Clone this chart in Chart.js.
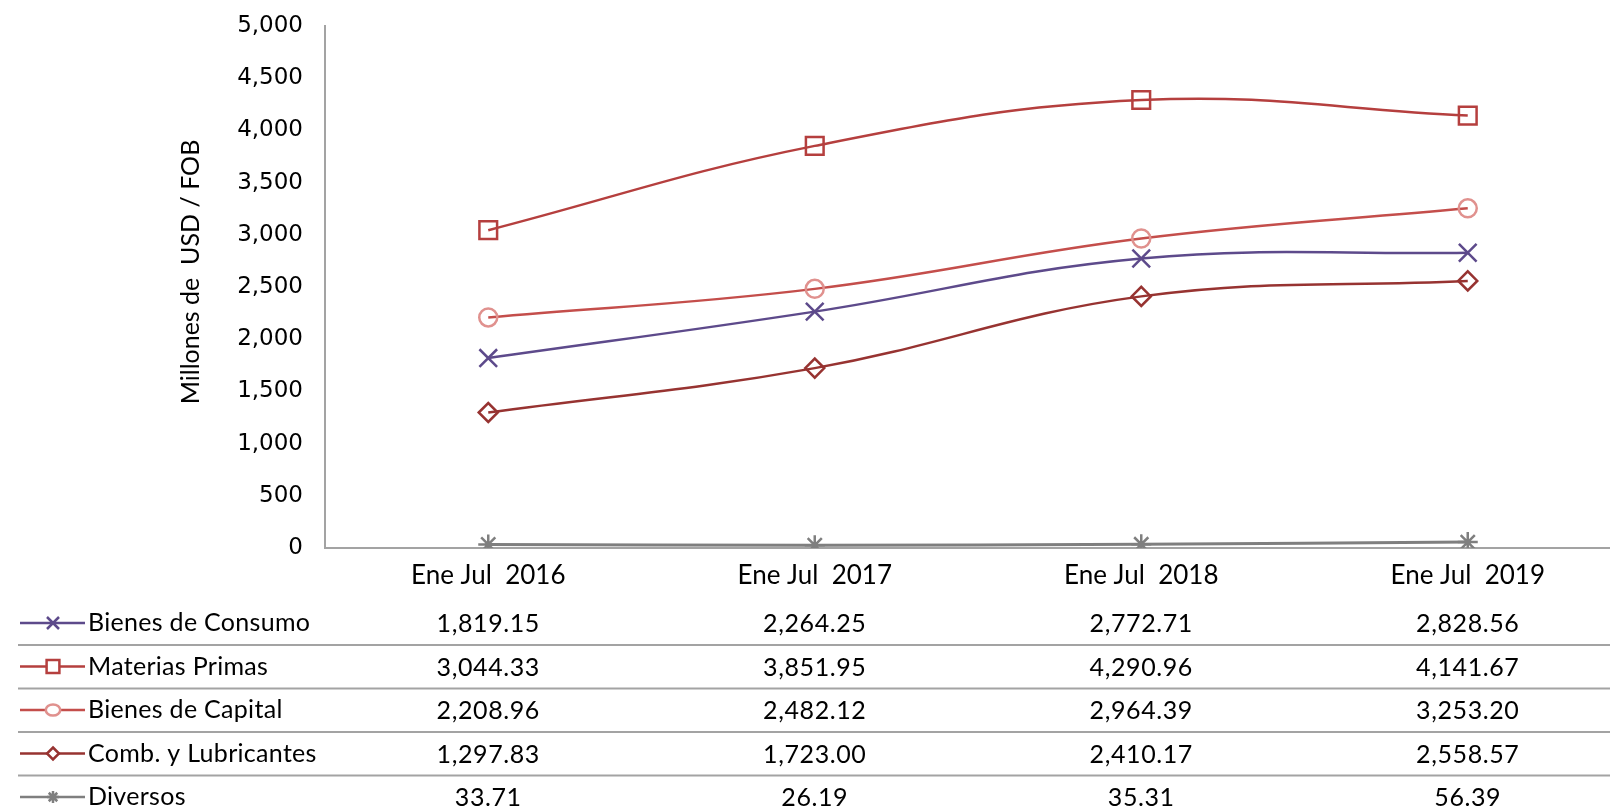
<!DOCTYPE html>
<html>
<head>
<meta charset="utf-8">
<script src="https://cdn.jsdelivr.net/npm/chart.js@4/dist/chart.umd.min.js"></script>
<style>
  html, body { margin: 0; padding: 0; background: #fff; overflow: hidden; }
  #wrap { width: 1640px; height: 807px; }
</style>
</head>
<body>
<div id="wrap"><canvas id="chart" width="1640" height="807"></canvas></div>
<script>
// Importaciones por uso o destino económico, enero-julio de cada año (millones USD FOB)
const categories = ["Ene Jul  2016", "Ene Jul  2017", "Ene Jul  2018", "Ene Jul  2019"]
const seriesNames = ["Bienes de Consumo", "Materias Primas", "Bienes de Capital", "Comb. y Lubricantes", "Diversos"]

const bienesConsumo   = [1819.15, 2264.25, 2772.71, 2828.56]
const materiasPrimas  = [3044.33, 3851.95, 4290.96, 4141.67]
const bienesCapital   = [2208.96, 2482.12, 2964.39, 3253.20]
const combLubricantes = [1297.83, 1723.00, 2410.17, 2558.57]
const diversos        = [33.71, 26.19, 35.31, 56.39]

const yTicks = [0, 500, 1000, 1500, 2000, 2500, 3000, 3500, 4000, 4500, 5000]
const yTitle = "Millones de  USD / FOB"

const CALIBRI = "Lato, 'Open Sans', sans-serif"
const GRID_GRAY = "#a3a3a3"

const fmt = (v) => v.toLocaleString("en-US", { minimumFractionDigits: 2, maximumFractionDigits: 2 })

function series(label, data, color, pointColor, style, radius, width) {
  return {
    label,
    data,
    borderColor: color,
    borderWidth: width || 2.5,
    pointStyle: style,
    pointRadius: radius,
    pointBorderWidth: 2.5,
    pointBorderColor: pointColor,
    pointBackgroundColor: "rgba(255,255,255,0)",
    tension: 0.4,
    fill: false,
  }
}

const datasets = [
  series(seriesNames[0], bienesConsumo,   "#5d4a8b", "#5d4a8b", "crossRot", 12.5),
  series(seriesNames[1], materiasPrimas,  "#b53f3e", "#b53f3e", "rect", 12.5),
  series(seriesNames[2], bienesCapital,   "#c44e4b", "#e0918e", "circle", 9),
  series(seriesNames[3], combLubricantes, "#973331", "#973331", "rectRot", 9.5),
  series(seriesNames[4], diversos,        "#7f7f7f", "#7f7f7f", "star", 10, 3),
]

// simple marker for the data-table legend keys
function drawKey(ctx, ds, x, y) {
  const r = 8
  ctx.save()
  ctx.strokeStyle = ds.borderColor
  ctx.lineWidth = 2.5
  ctx.beginPath(); ctx.moveTo(x - 33, y); ctx.lineTo(x + 32, y); ctx.stroke()
  ctx.strokeStyle = ds.pointBorderColor
  ctx.fillStyle = "#fff"
  ctx.beginPath()
  switch (ds.pointStyle) {
    case "crossRot":
      ctx.moveTo(x - r * 0.75, y - r * 0.75); ctx.lineTo(x + r * 0.75, y + r * 0.75)
      ctx.moveTo(x - r * 0.75, y + r * 0.75); ctx.lineTo(x + r * 0.75, y - r * 0.75)
      ctx.stroke(); break
    case "rect":
      ctx.rect(x - r * 0.8, y - r * 0.8, r * 1.6, r * 1.6); ctx.fill(); ctx.stroke(); break
    case "circle":
      ctx.ellipse(x, y, r * 0.9, r * 0.7, 0, 0, Math.PI * 2); ctx.fill(); ctx.stroke(); break
    case "rectRot":
      ctx.moveTo(x, y - r * 0.75); ctx.lineTo(x + r * 0.75, y); ctx.lineTo(x, y + r * 0.75); ctx.lineTo(x - r * 0.75, y)
      ctx.closePath(); ctx.fill(); ctx.stroke(); break
    case "star":
      for (let a = 0; a < 4; a++) {
        const t = a * Math.PI / 4
        ctx.moveTo(x - Math.cos(t) * r * 0.75, y - Math.sin(t) * r * 0.75)
        ctx.lineTo(x + Math.cos(t) * r * 0.75, y + Math.sin(t) * r * 0.75)
      }
      ctx.stroke(); break
  }
  ctx.restore()
}

// data table under the plot + rotated y title
const dataTable = {
  id: "dataTable",
  afterDraw(chart) {
    const { ctx } = chart
    const x = chart.scales.x
    const rowTop = 623
    const rowStep = 43.5
    ctx.save()
    ctx.textBaseline = "middle"
    chart.data.datasets.forEach((ds, i) => {
      const y = rowTop + i * rowStep
      drawKey(ctx, ds, 53, y)
      ctx.fillStyle = "#000"
      ctx.font = `25px ${CALIBRI}`
      ctx.letterSpacing = "0.3px"
      ctx.textAlign = "left"
      ctx.fillText(ds.label, 88, y)
      ctx.letterSpacing = "0.6px"
      ctx.textAlign = "center"
      ds.data.forEach((v, j) => ctx.fillText(fmt(v), x.getPixelForValue(j), y + 1))
      if (i < chart.data.datasets.length - 1) {
        ctx.strokeStyle = GRID_GRAY
        ctx.lineWidth = 2
        ctx.beginPath()
        ctx.moveTo(18, y + 22)
        ctx.lineTo(chart.width, y + 22)
        ctx.stroke()
      }
    })
    // y axis title
    ctx.letterSpacing = "0px"
    ctx.translate(191, 272)
    ctx.rotate(-Math.PI / 2)
    ctx.font = `25px ${CALIBRI}`
    ctx.textAlign = "center"
    ctx.fillText(yTitle, 0, 0)
    ctx.restore()
  }
}

new Chart(document.getElementById("chart"), {
  type: "line",
  data: { labels: categories, datasets },
  options: {
    responsive: false,
    animation: false,
    layout: { autoPadding: false, padding: { top: 26, right: 9, left: 0, bottom: 0 } },
    plugins: {
      legend: { display: false },
      tooltip: { enabled: false },
    },
    scales: {
      x: {
        offset: true,
        grid: { color: "rgba(0,0,0,0)", drawTicks: false },
        border: { color: GRID_GRAY, width: 2 },
        ticks: { color: "#000", padding: 12, font: { family: CALIBRI, size: 26 }, maxRotation: 0 },
        afterFit: (s) => { s.height = 259 },
      },
      y: {
        min: 0,
        max: 5000,
        afterBuildTicks: (s) => { s.ticks = yTicks.map((v) => ({ value: v })) },
        // invisible tick marks give the label gap without padding the top
        grid: { color: "rgba(0,0,0,0)", drawTicks: true, tickLength: 22, tickColor: "rgba(0,0,0,0)" },
        border: { color: GRID_GRAY, width: 2 },
        ticks: {
          color: "#000",
          padding: 0,
          font: { family: "'DejaVu Sans'", size: 23 },
          callback: (v) => v.toLocaleString("en-US"),
        },
        afterFit: (s) => { s.width = 325 },
      },
    },
  },
  plugins: [dataTable],
})
</script>
</body>
</html>
